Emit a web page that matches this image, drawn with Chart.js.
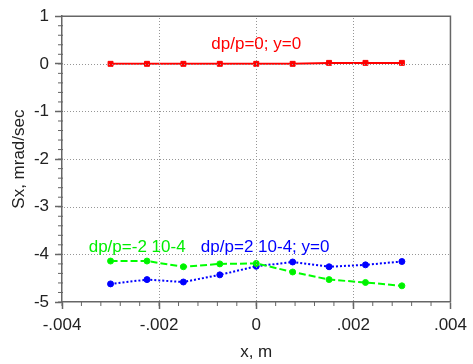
<!DOCTYPE html>
<html>
<head>
<meta charset="utf-8">
<script src="https://cdn.jsdelivr.net/npm/chart.js@4/dist/chart.umd.min.js"></script>
<style>
  body { margin: 0; background: #fff; }
  #wrap { width: 473px; height: 364px; }
</style>
</head>
<body>
<div id="wrap"><canvas id="chart" width="473" height="364"></canvas></div>
<script>
// x positions, m
const xValues = [-0.003, -0.00225, -0.0015, -0.00075, 0, 0.00075, 0.0015, 0.00225, 0.003];
// Sx, mrad/sec
const sxZero = [0, 0, 0, 0, 0, 0, 0.02, 0.02, 0.02];
const sxMinus = [-4.14, -4.14, -4.26, -4.2, -4.19, -4.37, -4.53, -4.59, -4.66];
const sxPlus = [-4.62, -4.53, -4.58, -4.43, -4.25, -4.16, -4.26, -4.22, -4.15];
const xTicks = [-0.004, -0.002, 0, 0.002, 0.004];
const yTicks = [1, 0, -1, -2, -3, -4, -5];

const fontFamily = '"Liberation Sans", Arial, sans-serif';
const textFont = '17px ' + fontFamily;

// in-plot labels, placed in data coordinates
const notes = [
    { text: 'dp/p=0; y=0', x: 0, y: 0.31, align: 'center', color: '#ff0000' },
    { text: 'dp/p=-2 10-4', x: -0.00345, y: -3.96, align: 'left', color: '#00ee00' },
    { text: 'dp/p=2 10-4; y=0', x: -0.00114, y: -3.96, align: 'left', color: '#0000ff' }
];

const toPoints = (ys) => xValues.map((x, i) => ({ x: x, y: ys[i] }));

const framePlugin = {
    id: 'frame',
    afterDraw(chart) {
        const ctx = chart.ctx;
        const a = chart.chartArea;
        const xs = chart.scales.x;
        const ys = chart.scales.y;
        ctx.save();

        // dotted grid on the inner major ticks, dot by dot
        ctx.fillStyle = 'rgb(150,150,150)';
        for (let i = 1; i < xTicks.length - 1; i++) {
            const p = Math.round(xs.getPixelForValue(xTicks[i]));
            for (let y = Math.round(a.top) + 2; y < a.bottom - 1; y += 3) {
                ctx.fillRect(p, y, 1, 1);
            }
        }
        for (let i = 1; i < yTicks.length - 1; i++) {
            const p = Math.round(ys.getPixelForValue(yTicks[i]));
            for (let x = Math.round(a.left) + 2; x < a.right - 1; x += 3) {
                ctx.fillRect(x, p, 1, 1);
            }
        }

        ctx.strokeStyle = '#666';
        ctx.lineWidth = 1.5;
        ctx.beginPath();
        ctx.moveTo(a.left, a.top);
        ctx.lineTo(a.right, a.top);
        ctx.lineTo(a.right, a.bottom);
        ctx.stroke();

        // minor ticks, 5 per major step
        ctx.lineWidth = 1;
        ctx.beginPath();
        for (let v = -5; v < 1; v += 0.2) {
            const p = ys.getPixelForValue(v);
            ctx.moveTo(a.left - 4, p);
            ctx.lineTo(a.left + 1, p);
        }
        for (let v = -0.004; v < 0.004; v += 0.0004) {
            const p = xs.getPixelForValue(v);
            ctx.moveTo(p, a.bottom - 1);
            ctx.lineTo(p, a.bottom + 4);
        }
        ctx.stroke();

        ctx.font = textFont;
        ctx.textBaseline = 'alphabetic';
        notes.forEach(n => {
            ctx.fillStyle = n.color;
            ctx.textAlign = n.align;
            ctx.fillText(n.text, xs.getPixelForValue(n.x), ys.getPixelForValue(n.y));
        });
        ctx.restore();
    }
};

new Chart(document.getElementById('chart'), {
    type: 'line',
    data: {
        datasets: [
            {
                label: 'dp/p=0; y=0',
                data: toPoints(sxZero),
                borderColor: '#ff0000',
                backgroundColor: '#ff0000',
                borderWidth: 2,
                pointStyle: 'rect',
                pointRadius: 3.5,
                pointBorderWidth: 1
            },
            {
                label: 'dp/p=-2 10-4',
                data: toPoints(sxMinus),
                borderColor: '#00ff00',
                backgroundColor: '#00ee00',
                borderWidth: 2,
                borderDash: [7, 3],
                pointStyle: 'circle',
                pointRadius: 3,
                pointBorderWidth: 1
            },
            {
                label: 'dp/p=2 10-4; y=0',
                data: toPoints(sxPlus),
                borderColor: '#0000ff',
                backgroundColor: '#0000ff',
                borderWidth: 2,
                borderDash: [2, 2],
                pointStyle: 'circle',
                pointRadius: 3,
                pointBorderWidth: 1
            }
        ]
    },
    options: {
        responsive: false,
        animation: false,
        layout: { padding: { top: 15, right: 19, left: 0, bottom: 0 } },
        plugins: {
            legend: { display: false },
            tooltip: { enabled: false }
        },
        scales: {
            x: {
                type: 'linear',
                min: -0.004,
                max: 0.004,
                afterFit: (s) => { s.height = 62; },
                afterBuildTicks: (s) => { s.ticks = xTicks.map(v => ({ value: v })); },
                ticks: {
                    color: '#222',
                    font: { family: fontFamily, size: 17 },
                    padding: 6,
                    maxRotation: 0,
                    callback: (v) => {
                        if (Math.abs(v) < 1e-12) return '0';
                        return (v < 0 ? '-' : '') + Math.abs(v).toFixed(3).replace(/^0/, '');
                    }
                },
                grid: {
                    drawOnChartArea: false,
                    tickColor: '#666',
                    tickLength: 7,
                    tickWidth: 1.5
                },
                border: { color: '#666', width: 1.5 },
                title: {
                    display: true,
                    text: 'x, m',
                    color: '#222',
                    font: { family: fontFamily, size: 17 },
                    padding: { top: 0, bottom: 1 }
                }
            },
            y: {
                type: 'linear',
                min: -5,
                max: 1,
                afterFit: (s) => { s.width = 62; },
                afterBuildTicks: (s) => { s.ticks = yTicks.map(v => ({ value: v })); },
                ticks: {
                    color: '#222',
                    font: { family: fontFamily, size: 17 },
                    padding: 6
                },
                grid: {
                    drawOnChartArea: false,
                    tickColor: '#666',
                    tickLength: 7,
                    tickWidth: 1.5
                },
                border: { color: '#666', width: 1.5 },
                title: {
                    display: true,
                    text: 'Sx, mrad/sec',
                    color: '#222',
                    font: { family: fontFamily, size: 17 },
                    padding: { top: 9, bottom: 0 }
                }
            }
        }
    },
    plugins: [framePlugin]
});
</script>
</body>
</html>
